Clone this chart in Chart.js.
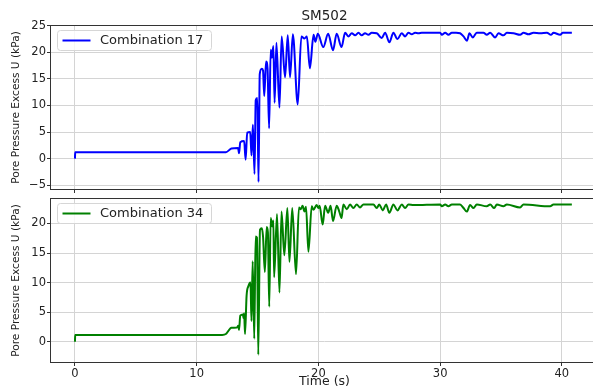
<!DOCTYPE html>
<html>
<head>
<meta charset="utf-8">
<script src="https://cdn.jsdelivr.net/npm/chart.js"></script>
<style>
body{margin:0;background:#fff;overflow:hidden;width:593px;height:389px;position:relative;}
canvas{position:absolute;left:0;}
#topChart{top:0;}
#bottomChart{top:190px;}
</style>
</head>
<body>
<canvas id="topChart" width="604" height="200"></canvas>
<canvas id="bottomChart" width="604" height="199"></canvas>
<script>
// values (time in s, excess pore pressure in kPa)
const time17 = [0,0.02,12.4,12.85,13.4,13.48,13.58,13.9,14.02,14.15,14.4,14.5,14.62,14.75,14.85,14.98,15.08,15.18,15.35,15.45,15.55,15.7,15.82,15.95,16.08,16.18,16.3,16.4,16.55,16.8,16.98,17.26,17.48,17.67,17.9,18.3,18.6,18.85,19.05,19.3,19.6,19.75,19.95,20.4,20.8,21.2,21.5,21.9,22.19,22.46,22.74,23.01,23.29,23.56,23.83,24.11,24.38,24.79,25.2,25.48,25.83,26.16,26.49,26.85,27.12,27.4,27.67,27.94,28.22,28.49,30.0,30.14,30.41,30.68,30.96,31.31,31.64,31.92,32.2,32.41,32.68,33.01,33.56,33.83,34.11,34.52,34.79,35.2,35.48,36.03,36.57,36.85,37.26,37.67,38.22,38.77,39.1,39.31,39.86,40.08,40.82];
const pp17 = [0,1.2,1.2,1.9,2.0,1.0,3.1,3.3,-0.2,4.9,5.0,0.6,6.4,-2.9,11.0,11.4,-4.4,15.9,16.9,16.6,11.8,18.3,17.0,5.7,20.5,19.0,21.2,10.5,21.8,9.6,23.0,15.3,23.2,15.3,23.4,10.2,23.0,22.6,23.0,17.0,23.3,22.0,23.5,21.0,23.5,20.4,23.5,21.0,23.7,23.0,23.6,23.2,23.7,23.2,23.6,23.3,23.7,23.6,22.7,23.7,21.9,23.7,22.5,23.6,23.0,23.7,23.4,23.7,23.6,23.7,23.7,23.3,23.7,23.3,23.7,23.7,23.6,23.0,22.2,23.6,22.8,23.7,23.7,23.3,23.7,22.8,23.6,23.2,23.7,23.6,23.3,23.7,23.4,23.7,23.6,23.7,23.3,23.7,23.3,23.7,23.7];

const time34 = [0,0.02,12.1,12.4,12.85,13.3,13.42,13.48,13.58,13.8,13.85,13.9,13.97,14.1,14.25,14.42,14.5,14.6,14.73,14.84,14.95,15.06,15.2,15.35,15.45,15.6,15.75,15.85,15.96,16.08,16.2,16.3,16.36,16.6,16.8,16.97,17.2,17.45,17.62,17.85,18.16,18.4,18.55,18.7,18.85,18.98,19.18,19.45,19.6,19.85,20.0,20.1,20.35,20.55,20.8,21.0,21.2,21.5,21.7,21.9,22.05,22.33,22.6,22.87,23.15,23.42,23.7,24.52,24.79,25.0,25.29,25.56,25.83,26.16,26.49,26.85,27.12,27.4,27.81,30.0,30.14,30.41,30.68,30.96,31.64,31.92,32.19,32.46,32.74,33.01,33.83,34.11,34.44,34.66,35.2,35.48,36.57,36.85,39.04,39.31,40.82];
const pp34 = [0,1.15,1.15,1.3,2.35,2.4,2.7,2.0,4.4,4.6,4.0,4.8,1.3,7.8,9.4,10.0,3.5,13.6,0.5,17.8,17.6,-2.2,18.9,19.2,17.8,11.8,19.4,18.5,5.9,20.9,19.5,20.5,10.9,21.6,8.3,22.0,14.6,22.6,13.5,22.6,11.4,22.7,22.4,23.0,22.0,22.8,15.2,22.9,22.3,23.1,22.6,23.0,19.8,23.0,21.8,23.0,20.4,23.0,22.1,20.9,23.2,22.4,23.2,22.6,23.2,22.7,23.2,23.2,22.6,23.2,22.2,23.2,21.8,23.2,22.2,23.2,22.6,23.2,23.1,23.2,22.9,23.2,22.9,23.2,23.2,22.6,22.0,23.1,22.6,23.2,22.9,23.2,22.6,23.2,22.9,23.2,22.7,23.2,22.9,23.2,23.2];

const xTicks = [0,10,20,30,40];
const yTicks17 = [-5,0,5,10,15,20,25];
const yTicks34 = [0,5,10,15,20];

const FONT = "DejaVu Sans";
const TEXT = "#222";
const GRID = "#d4d4d4";

function points(xs,ys){
return xs.map((x,i)=>({x:x,y:ys[i]}));
}

function fmt(v){
return v<0 ? "\u2212"+Math.abs(v) : String(v);
}

// axes frame like matplotlib spines
const frame = {
id:"frame",
afterDraw(chart){
const a = chart.chartArea, ctx = chart.ctx;
ctx.save();
ctx.strokeStyle = "#333";
ctx.lineWidth = 1;
ctx.strokeRect(a.left+0.5, a.top+0.5, a.right-a.left-1, a.bottom-a.top-1);
ctx.restore();
}
};

// legend box in the upper left corner of the axes
const cornerLegend = {
id:"cornerLegend",
afterDraw(chart){
const a = chart.chartArea, ctx = chart.ctx;
const ds = chart.data.datasets[0];
const x = a.left+7.5, y = a.top+5.5, w = 154, h = 20, r = 3;
ctx.save();
ctx.beginPath();
ctx.roundRect(x, y, w, h, r);
ctx.fillStyle = "rgba(255,255,255,0.8)";
ctx.fill();
ctx.strokeStyle = "#d6d6d6";
ctx.lineWidth = 1;
ctx.stroke();
ctx.beginPath();
ctx.moveTo(x+5, y+h/2);
ctx.lineTo(x+33, y+h/2);
ctx.strokeStyle = ds.borderColor;
ctx.lineWidth = 2;
ctx.stroke();
ctx.fillStyle = TEXT;
ctx.font = "13px '"+FONT+"'";
ctx.textBaseline = "middle";
ctx.fillText(ds.label, x+42.5, y+h/2+0.5);
ctx.restore();
}
};

function yAxis(min,max,ticks){
return {
min:min,
max:max,
afterBuildTicks:s=>{ s.ticks = ticks.map(v=>({value:v})); },
afterFit:s=>{ s.width = 50; },
border:{display:false},
grid:{color:GRID,tickLength:3,tickColor:"#333"},
ticks:{padding:1,color:TEXT,font:{family:FONT,size:11.5},callback:v=>fmt(v)},
title:{display:true,text:"Pore Pressure Excess U (kPa)",color:TEXT,font:{family:FONT,size:10.6},padding:{top:9.5,bottom:0}}
};
}

function xAxis(showLabels,height){
const ax = {
type:"linear",
min:-2.05,
max:43.05,
afterBuildTicks:s=>{ s.ticks = xTicks.map(v=>({value:v})); },
afterFit:s=>{ s.height = height; },
border:{display:false},
grid:{color:GRID,tickLength:3,tickColor:"#333"},
ticks:{display:showLabels,padding:1,color:TEXT,font:{family:FONT,size:11.5},maxRotation:0}
};
if(showLabels){
ax.title = {display:true,text:"Time (s)",color:TEXT,font:{family:FONT,size:12.5},padding:{top:0,bottom:0}};
}
return ax;
}

function dataset(label,color,xs,ys){
return {
label:label,
data:points(xs,ys),
borderColor:color,
borderWidth:2,
pointRadius:0,
cubicInterpolationMode:"monotone"
};
}

function loadTopChart(){
new Chart(
document.getElementById("topChart"),
{
type:"line",
data:{
datasets:[dataset("Combination 17","#0000ff",time17,pp17)]
},
options:{
responsive:false,
animation:false,
layout:{padding:{left:0,right:5,top:0,bottom:0}},
plugins:{
legend:{display:false},
tooltip:{enabled:false},
title:{display:true,text:"SM502",fullSize:false,color:TEXT,font:{family:FONT,size:13.5,weight:"normal"},padding:{top:8,bottom:0.8}}
},
scales:{
x:xAxis(false,10),
y:yAxis(-5.9,25.15,yTicks17)
}
},
plugins:[frame,cornerLegend]
}
);
}

function loadBottomChart(){
new Chart(
document.getElementById("bottomChart"),
{
type:"line",
data:{
datasets:[dataset("Combination 34","#008000",time34,pp34)]
},
options:{
responsive:false,
animation:false,
layout:{padding:{left:0,right:5,top:8,bottom:0}},
plugins:{
legend:{display:false},
tooltip:{enabled:false}
},
scales:{
x:xAxis(true,26),
y:yAxis(-3.6,24.3,yTicks34)
}
},
plugins:[frame,cornerLegend]
}
);
}

loadTopChart();
loadBottomChart();
</script>
</body>
</html>
